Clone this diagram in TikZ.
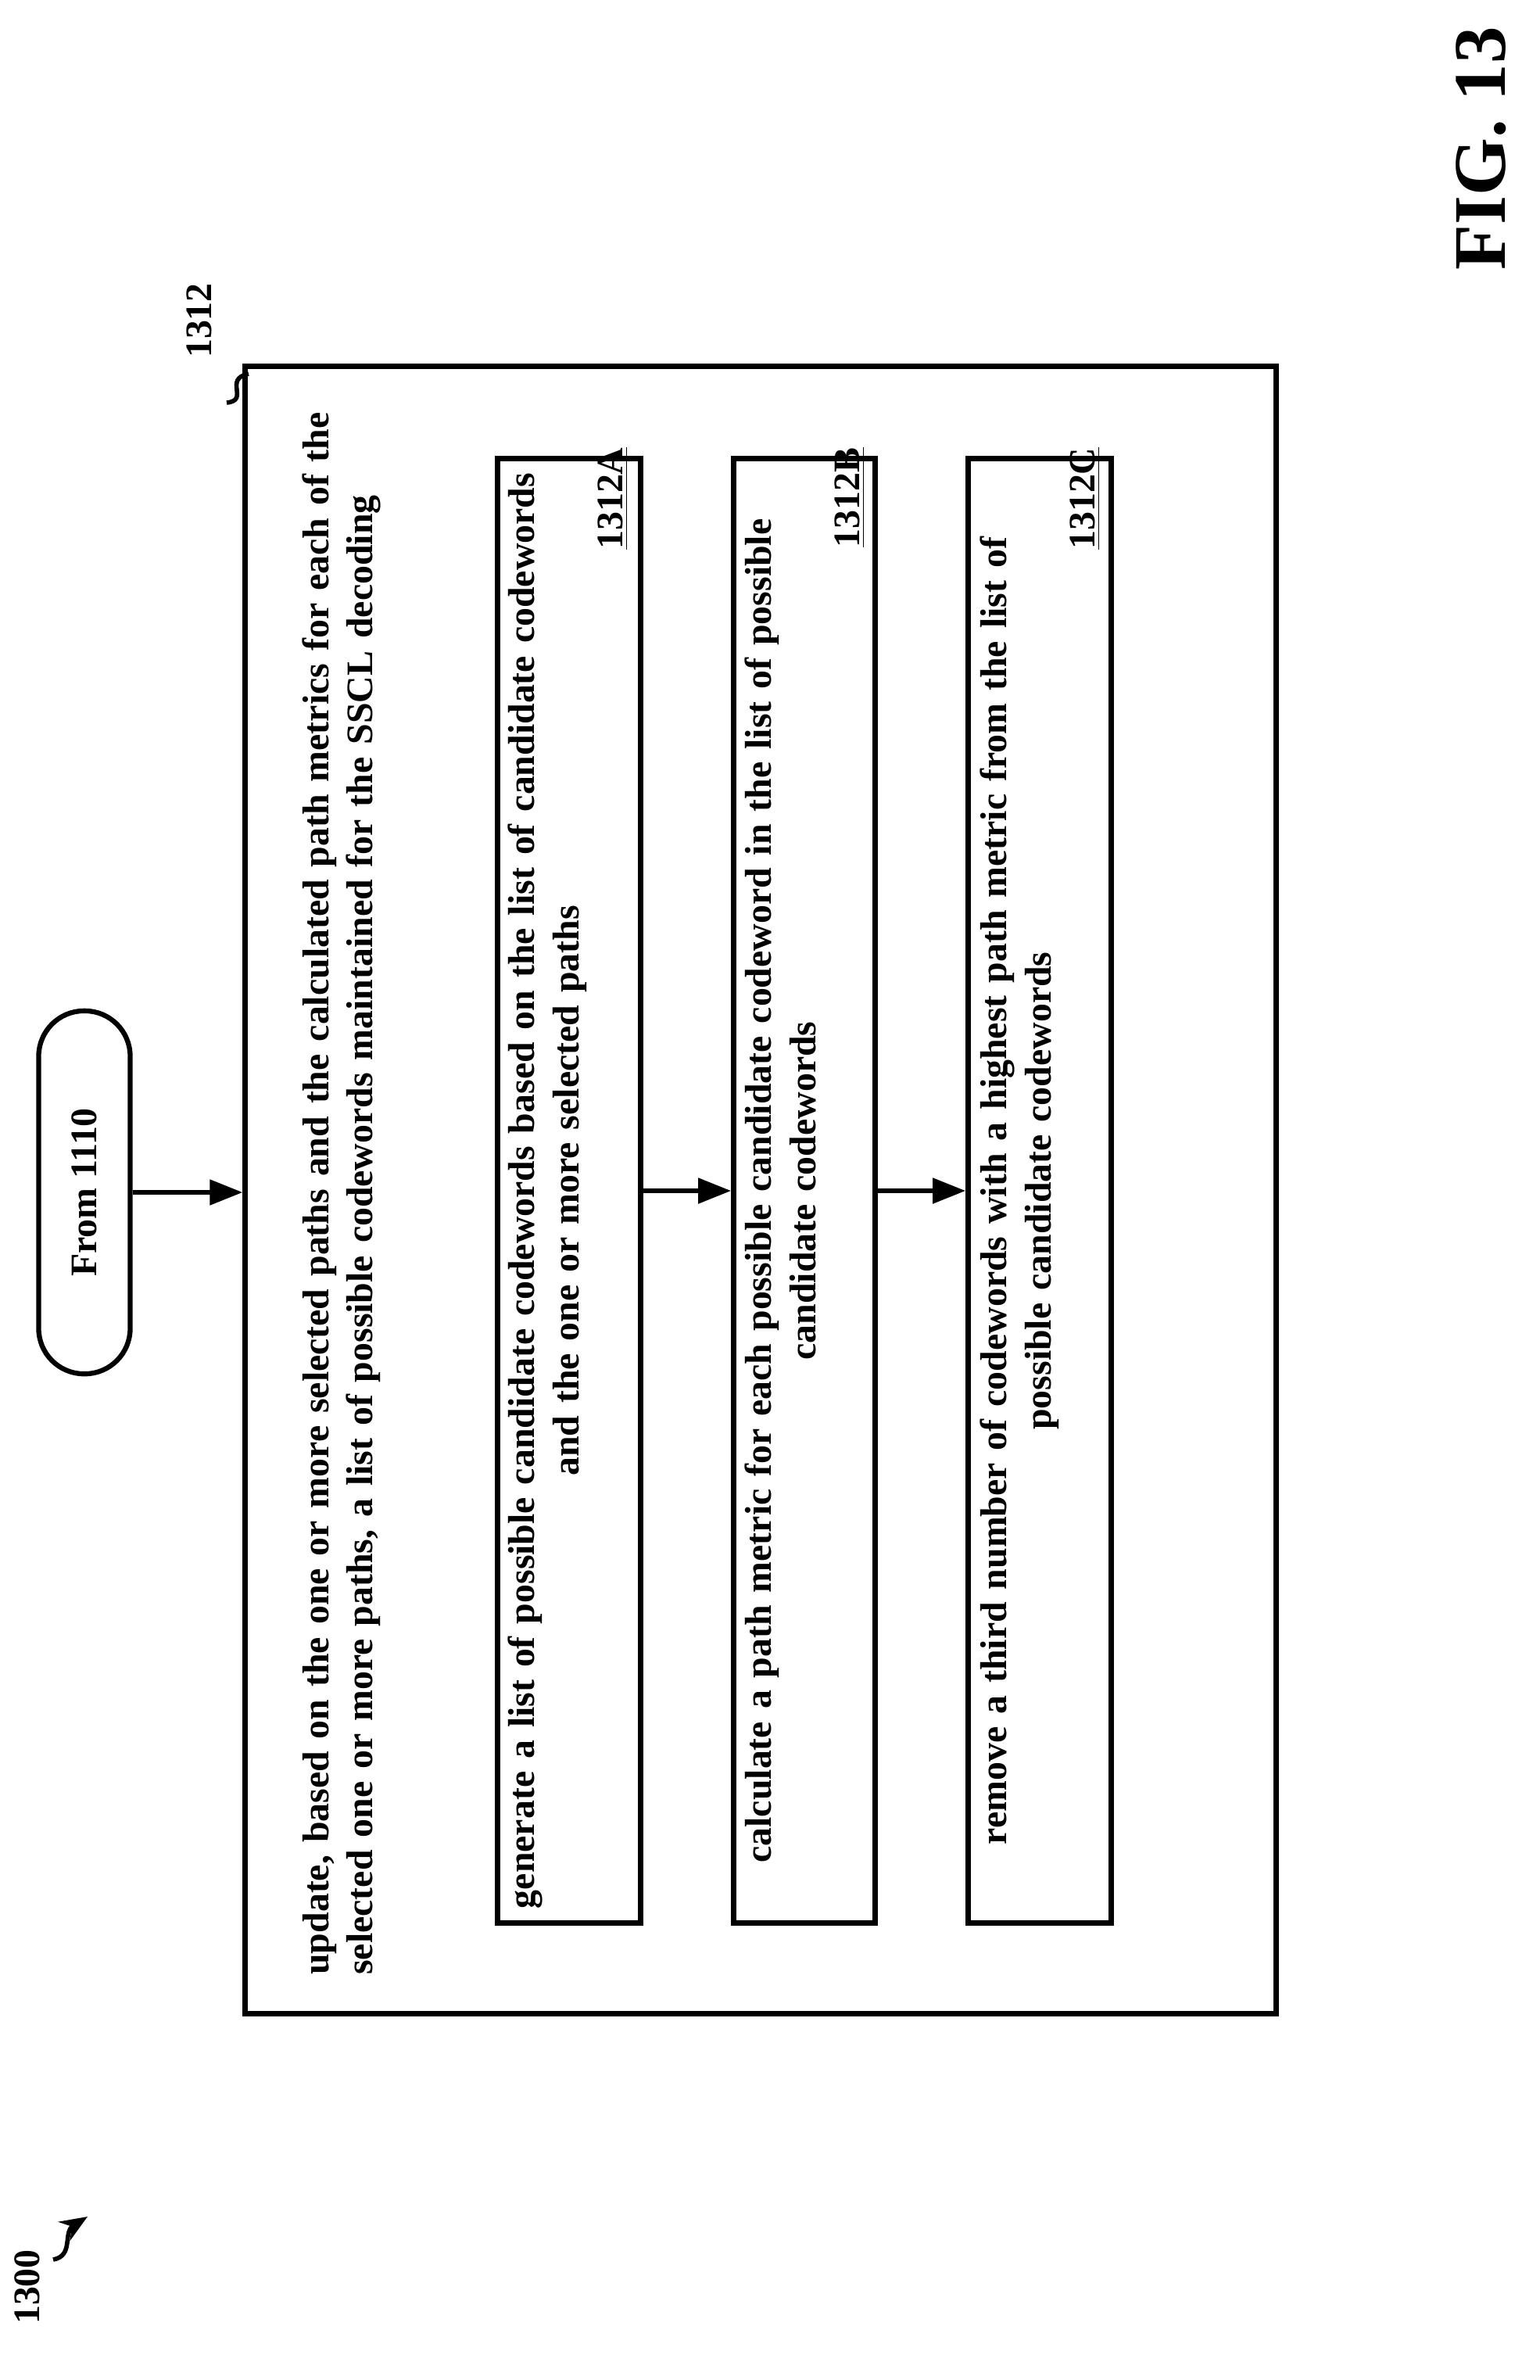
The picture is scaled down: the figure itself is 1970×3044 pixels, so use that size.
\documentclass[tikz,border=0pt]{standalone}
\usepackage{fontspec}
\setmainfont{Liberation Serif}
\usetikzlibrary{arrows.meta}
\begin{document}
\begin{tikzpicture}[x=0.01cm,y=-0.01cm,
  box/.style={draw,line width=1.8pt,inner sep=0pt},
  txt/.style={rotate=90,font=\bfseries\fontsize{13.6}{16}\selectfont,inner sep=0pt},
  arr/.style={-{Triangle[length=12pt,width=9pt]},line width=1.8pt}]
\useasboundingbox (0,0) rectangle (1970,3044);
\node[box,minimum width=13.18cm,minimum height=21.06cm] (outer) at (973,1522) {};
\node[box,rounded corners=0.58cm,minimum width=1.17cm,minimum height=4.64cm] (term) at (108,1525) {};
\node[txt] (termt) at (108,1525) {From 1110};
\node[box,minimum width=1.83cm,minimum height=18.72cm] (a) at (728,1523) {};
\node[box,minimum width=1.81cm,minimum height=18.72cm] (b) at (1029,1523) {};
\node[box,minimum width=1.83cm,minimum height=18.72cm] (c) at (1330,1523) {};
\node[txt,text width=20.1cm,align=left] (ot) at (437,1520) {update, based on the one or more selected paths and the calculated path metrics for each of the\\ selected one or more paths, a list of possible codewords maintained for the SSCL decoding};
\node[txt,text width=19cm,align=center] (at) at (727,1523) {generate a list of possible candidate codewords based on the list of candidate codewords\\ and the one or more selected paths\\ \hfill\underline{1312A}\hspace*{1.0cm}};
\node[txt,text width=19cm,align=center] (bt) at (1030,1523) {calculate a path metric for each possible candidate codeword in the list of possible\\ candidate codewords\\ \hfill\underline{1312B}\hspace*{1.0cm}};
\node[txt,text width=19cm,align=center] (ct) at (1331,1523) {remove a third number of codewords with a highest path metric from the list of\\ possible candidate codewords\\ \hfill\underline{1312C}\hspace*{1.0cm}};
\draw[arr] (term.east) -- (outer.west |- term.east);
\draw[arr] (a.east) -- (b.west);
\draw[arr] (b.east) -- (c.west);
\node[txt] (l1312) at (255,410) {1312};
\coordinate (s1) at (290,515);
\coordinate (s2) at (318,478);
\draw[line width=1.6pt] (s1) .. controls (320,512) and (285,485) .. (s2);
\node[txt] (l1300) at (35,2925) {1300};
\coordinate (p1) at (68,2890);
\coordinate (p2) at (112,2835);
\draw[line width=1.6pt,-{Stealth[length=10pt,width=8pt]}] (p1) .. controls (95,2885) and (80,2855) .. (p2);
\node[rotate=90,font=\bfseries\fontsize{27}{30}\selectfont,inner sep=0pt] (fig) at (1895,190) {FIG. 13};
\end{tikzpicture}
\end{document}
